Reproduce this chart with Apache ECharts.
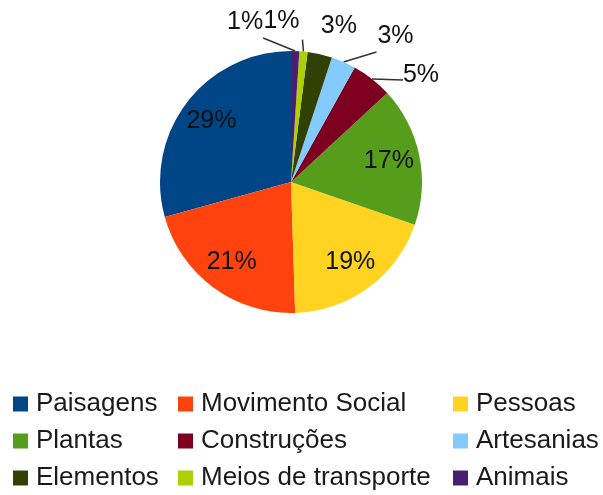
<!DOCTYPE html>
<html>
<head>
<meta charset="utf-8">
<script src="https://cdn.jsdelivr.net/npm/echarts@6/dist/echarts.min.js"></script>
<style>
  html, body { margin: 0; padding: 0; background: #fff; }
  #main { width: 603px; height: 495px; }
</style>
</head>
<body>
<div id="main"></div>
<script>
var categories = ['Paisagens', 'Movimento Social', 'Pessoas', 'Plantas', 'Construções',
    'Artesanias', 'Elementos', 'Meios de transporte', 'Animais'];
var values = [29, 21, 19, 17, 5, 3, 3, 1, 1];
var colors = ['#004586', '#ff420e', '#ffd320', '#579d1c', '#7e0021',
    '#83caff', '#314004', '#aecf00', '#4b1f6f'];
// categorias grandes levam o rótulo dentro da fatia
var insideLabels = ['Paisagens', 'Movimento Social', 'Pessoas', 'Plantas'];

var CX = 291, CY = 182, R = 131;
var FONT = '"Liberation Sans", Arial, sans-serif';

// deslocamento dos rótulos externos a partir da borda da fatia:
// [dx do texto, dy do texto, dx fim da linha, dy fim da linha]
var outsideOffsets = {
    'Construções': [49, -4, 31, 1],
    'Artesanias': [52, -26, 33, -10],
    'Elementos': [19, -28, 0, 0],
    'Meios de transporte': [-22, -30, -1, -12],
    'Animais': [-50, -29, -32, -13]
};

var myChart = echarts.init(document.getElementById('main'));

var pieData = categories.map(function (name, i) {
    var inside = insideLabels.indexOf(name) >= 0;
    return {
        name: name,
        value: values[i],
        itemStyle: { color: colors[i] },
        label: { position: inside ? 'inside' : 'outside' },
        labelLine: { show: !inside && name !== 'Elementos' }
    };
});

function legendFor(names, left) {
    return {
        orient: 'vertical',
        left: left,
        top: 391,
        padding: 0,
        data: names,
        icon: 'rect',
        itemWidth: 15,
        itemHeight: 15,
        itemGap: 11,
        selectedMode: false,
        textStyle: {
            fontFamily: FONT, fontSize: 26, lineHeight: 26, color: '#1a1a1a',
            padding: [0, 0, 0, 3]
        }
    };
}

var option = {
    animation: false,
    legend: [
        legendFor([categories[0], categories[3], categories[6]], 13),
        legendFor([categories[1], categories[4], categories[7]], 178),
        legendFor([categories[2], categories[5], categories[8]], 453)
    ],
    series: [{
        type: 'pie',
        center: [CX, CY],
        radius: R,
        startAngle: 90,
        clockwise: false,
        avoidLabelOverlap: false,
        data: pieData,
        label: {
            formatter: '{c}%',
            fontFamily: FONT,
            fontSize: 25,
            color: '#111'
        },
        labelLine: {
            lineStyle: { color: '#333', width: 1.5 }
        },
        labelLayout: function (p) {
            var name = categories[p.dataIndex];
            if (insideLabels.indexOf(name) >= 0) {
                // afasta os rótulos internos do centro, como no original
                var lx = p.labelRect.x + p.labelRect.width / 2;
                var ly = p.labelRect.y + p.labelRect.height / 2;
                return { dx: (lx - CX) * 0.46, dy: (ly - CY) * 0.46 };
            }
            var o = outsideOffsets[name];
            var e = p.labelLinePoints[0];
            var end = [e[0] + o[2], e[1] + o[3]];
            return {
                x: e[0] + o[0],
                y: e[1] + o[1],
                align: 'center',
                verticalAlign: 'middle',
                labelLinePoints: [e, [(e[0] + end[0]) / 2, (e[1] + end[1]) / 2], end]
            };
        }
    }]
};
myChart.setOption(option);
</script>
</body>
</html>
